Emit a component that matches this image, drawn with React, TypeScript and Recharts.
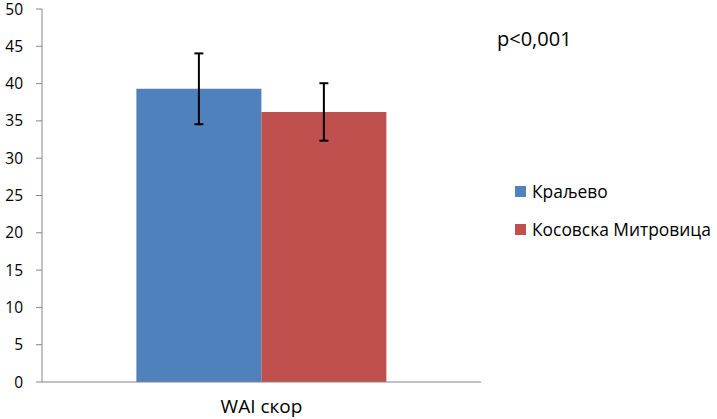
import React from "react"
import { Bar, BarChart, ErrorBar, XAxis, YAxis } from "recharts"

// values
const categories = ["WAI скор"]
const kraljevo = [39.3]
const kraljevoErr = [4.75]
const kosovska = [36.2]
const kosovskaErr = [3.85]
const yTicks = [0, 5, 10, 15, 20, 25, 30, 35, 40, 45, 50]

const seriesNames = ["Краљево", "Косовска Митровица"]
const colors = ["#4F81BD", "#C0504D"]

const data = categories.map((name, i) => ({
	name,
	a: kraljevo[i],
	aErr: kraljevoErr[i],
	b: kosovska[i],
	bErr: kosovskaErr[i]
}))

const font = "'Open Sans', sans-serif"

const App: React.FC = () => {
	return (
		<div
			style={{
				position: "absolute",
				left: 0,
				top: 0,
				width: 717,
				height: 419,
				background: "#fff"
			}}
		>
			<BarChart
				width={717}
				height={419}
				data={data}
				margin={{ top: 9, right: 236, bottom: 0, left: 0 }}
				barGap={0}
				barCategoryGap="21.5%"
			>
				<XAxis
					dataKey="name"
					height={37}
					axisLine={{ stroke: "#868686" }}
					tickLine={false}
					tickSize={0}
					tickMargin={18}
					tick={{ fontSize: 19, fill: "#000", fontFamily: font }}
				/>
				<YAxis
					width={42}
					domain={[0, 50]}
					ticks={yTicks}
					interval={0}
					axisLine={{ stroke: "#868686" }}
					tickLine={{ stroke: "#868686" }}
					tickSize={6}
					tickMargin={13}
					tick={{ fontSize: 15.5, fill: "#000", fontFamily: font }}
				/>
				<Bar
					dataKey="a"
					name={seriesNames[0]}
					fill={colors[0]}
					isAnimationActive={false}
				>
					<ErrorBar dataKey="aErr" width={4.5} stroke="#000" strokeWidth={2} />
				</Bar>
				<Bar
					dataKey="b"
					name={seriesNames[1]}
					fill={colors[1]}
					isAnimationActive={false}
				>
					<ErrorBar dataKey="bErr" width={4.5} stroke="#000" strokeWidth={2} />
				</Bar>
			</BarChart>
			{/* legend */}
			<div
				style={{
					position: "absolute",
					left: 515,
					top: 172,
					fontFamily: font,
					fontSize: 17.4,
					whiteSpace: "nowrap"
				}}
			>
				{seriesNames.map((name, index) => (
					<div
						key={index}
						style={{ display: "flex", alignItems: "center", height: 38 }}
					>
						<div
							style={{
								width: 11,
								height: 11,
								marginRight: 6,
								backgroundColor: colors[index]
							}}
						></div>
						<span style={{ color: "#000" }}>{name}</span>
					</div>
				))}
			</div>
			<div
				style={{
					position: "absolute",
					left: 497,
					top: 25,
					fontFamily: font,
					fontSize: 20,
					color: "#000"
				}}
			>
				p&lt;0,001
			</div>
		</div>
	)
}

export default App
